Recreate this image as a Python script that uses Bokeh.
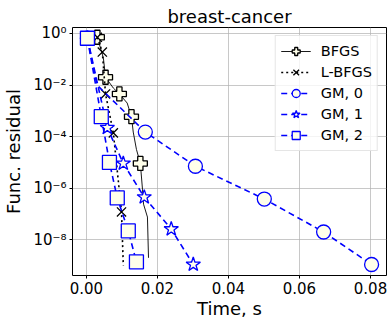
from bokeh.plotting import figure
from bokeh.embed import file_html
from bokeh.resources import INLINE
from bokeh.models import FixedTicker, CustomJSTickFormatter, PrintfTickFormatter, Range1d, Legend, LegendItem

# ---- data ----
bfgs_t = [0.0031, 0.0048, 0.0054, 0.0076, 0.0093, 0.0115, 0.0127, 0.0132, 0.0141, 0.0152, 0.0158, 0.0161, 0.0172, 0.0175]
bfgs_r = [0.71, 0.11, 0.020, 7.6e-3, 4.5e-3, 2.0e-3, 5.9e-4, 1.5e-4, 3.2e-5, 9.1e-6, 9.1e-7, 2.4e-7, 7.6e-8, 2.0e-9]
bfgs_mark = [0, 2, 4, 6, 9]

lbfgs_t = [0.0031, 0.0045, 0.0054, 0.0076, 0.0099, 0.0104]
lbfgs_r = [0.71, 0.19, 4.5e-3, 1.4e-4, 1.2e-7, 1.0e-9]
lbfgs_mark = [0, 1, 2, 3, 4]

gm0_t = [0.0003, 0.0030, 0.0166, 0.0307, 0.0501, 0.0668, 0.0803]
gm0_r = [0.65, 1.0e-2, 1.5e-4, 7.1e-6, 3.8e-7, 2.0e-8, 1.1e-9]
gm0_mark = [0, 2, 3, 4, 5, 6]

gm1_t = [0.0003, 0.0059, 0.0104, 0.0163, 0.0239, 0.0301]
gm1_r = [0.65, 2.2e-4, 9.1e-6, 4.5e-7, 2.6e-8, 1.1e-9]
gm1_mark = [0, 1, 2, 3, 4, 5]

gm2_t = [0.0003, 0.0042, 0.0065, 0.0087, 0.0118, 0.0141]
gm2_r = [0.65, 5.9e-4, 1.0e-5, 4.2e-7, 2.2e-8, 1.4e-9]
gm2_mark = [0, 1, 2, 3, 4, 5]

x_ticks = [0.0, 0.02, 0.04, 0.06, 0.08]
y_ticks = [1.0, 1e-2, 1e-4, 1e-6, 1e-8]

FONT = "DejaVu Sans"
FACE = "#FFFFEA"
BLUE = "#0000FF"

p = figure(width=388, height=321, output_backend="svg", toolbar_location=None,
           y_axis_type="log", title="breast-cancer",
           x_range=Range1d(-0.0039, 0.0845), y_range=Range1d(10 ** -9.385, 10 ** 0.23),
           min_border_left=72, min_border_right=2, min_border_top=27, min_border_bottom=44)

p.title.align = "center"
p.title.text_font = FONT
p.title.text_font_style = "normal"
p.title.text_font_size = "18px"
p.title.text_color = "black"
p.title.offset = 0
p.title.standoff = 1

p.outline_line_color = "black"
p.outline_line_width = 1
p.background_fill_color = "white"
p.border_fill_color = "white"

p.xaxis.ticker = FixedTicker(ticks=x_ticks)
p.xaxis.formatter = PrintfTickFormatter(format="%.2f")
p.yaxis.ticker = FixedTicker(ticks=y_ticks, minor_ticks=[])
p.yaxis.formatter = CustomJSTickFormatter(code="""
const sup = {'-':'\u207b','0':'\u2070','1':'\u00b9','2':'\u00b2','3':'\u00b3','4':'\u2074','5':'\u2075','6':'\u2076','7':'\u2077','8':'\u2078','9':'\u2079'};
const e = Math.round(Math.log10(tick)).toString();
let s = '';
for (const c of e) s += sup[c];
return '10' + s;
""")
for ax in (p.xaxis, p.yaxis):
    ax.major_label_text_font = FONT
    ax.major_label_text_font_size = "15px"
    ax.major_label_text_color = "black"
    ax.axis_label_text_font = FONT
    ax.axis_label_text_font_size = "18px"
    ax.axis_label_text_font_style = "normal"
    ax.axis_label_text_color = "black"
    ax.axis_line_color = None
    ax.major_tick_line_color = "black"
    ax.major_tick_in = 0
    ax.major_tick_out = 3
    ax.minor_tick_line_color = None
    ax.major_label_standoff = 3
p.xaxis.axis_label = "Time, s"
p.yaxis.axis_label = "Func. residual"
p.xaxis.axis_label_standoff = 1
p.yaxis.axis_label_standoff = 6

p.grid.grid_line_color = "#b0b0b0"
p.grid.grid_line_alpha = 0.7
p.grid.grid_line_width = 1


def pick(a, idx):
    return [a[i] for i in idx]


items = []

l = p.line(bfgs_t, bfgs_r, line_color="black", line_width=0.9)
s = p.scatter(pick(bfgs_t, bfgs_mark), pick(bfgs_r, bfgs_mark), marker="plus", size=14,
              fill_color=FACE, line_color="black", line_width=1.3)
items.append(LegendItem(label="BFGS", renderers=[l, s]))

l = p.line(lbfgs_t, lbfgs_r, line_color="black", line_width=1.6, line_dash="2 3")
s = p.scatter(pick(lbfgs_t, lbfgs_mark), pick(lbfgs_r, lbfgs_mark), marker="x", size=13,
              line_color="black", line_width=1.3)
items.append(LegendItem(label="L-BFGS", renderers=[l, s]))

l = p.line(gm0_t, gm0_r, line_color=BLUE, line_width=1.6, line_dash="6 4")
s = p.scatter(pick(gm0_t, gm0_mark), pick(gm0_r, gm0_mark), marker="circle", size=14,
              fill_color=FACE, line_color=BLUE, line_width=1.3)
items.append(LegendItem(label="GM, 0", renderers=[l, s]))

l = p.line(gm1_t, gm1_r, line_color=BLUE, line_width=1.6, line_dash="6 4")
s = p.scatter(pick(gm1_t, gm1_mark), pick(gm1_r, gm1_mark), marker="star", size=15,
              fill_color=FACE, line_color=BLUE, line_width=1.3)
items.append(LegendItem(label="GM, 1", renderers=[l, s]))

l = p.line(gm2_t, gm2_r, line_color=BLUE, line_width=1.6, line_dash="6 4")
s = p.scatter(pick(gm2_t, gm2_mark), pick(gm2_r, gm2_mark), marker="square", size=14,
              fill_color=FACE, line_color=BLUE, line_width=1.3)
items.append(LegendItem(label="GM, 2", renderers=[l, s]))

legend = Legend(items=items, location="top_right")
legend.label_text_font = FONT
legend.label_text_font_size = "14.5px"
legend.label_text_color = "black"
legend.glyph_width = 30
legend.glyph_height = 20
legend.label_height = 20
legend.label_standoff = 10
legend.spacing = 1
legend.padding = 5
legend.margin = 8
legend.border_line_color = "#cccccc"
legend.border_line_width = 1
legend.background_fill_alpha = 0.8
p.add_layout(legend)

open("out.html", "w").write(file_html(p, INLINE))
